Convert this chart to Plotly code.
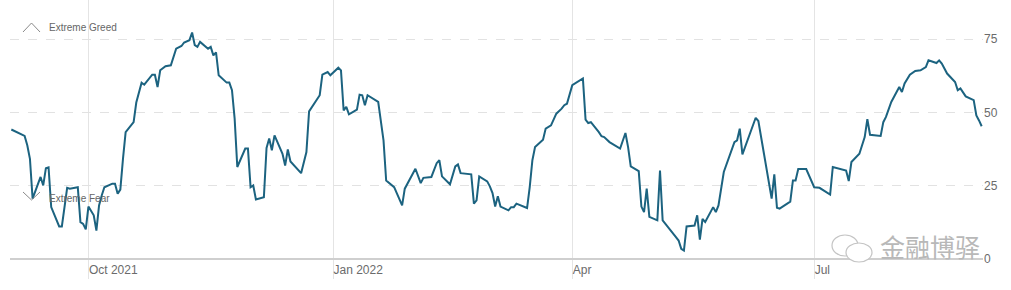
import plotly.graph_objects as go

dates = [
    "2021-09-02", "2021-09-07", "2021-09-08", "2021-09-09", "2021-09-10", "2021-09-13", "2021-09-14",
    "2021-09-15", "2021-09-16", "2021-09-17", "2021-09-20", "2021-09-21", "2021-09-23", "2021-09-24",
    "2021-09-27", "2021-09-28", "2021-09-29", "2021-09-30", "2021-10-01", "2021-10-03", "2021-10-04",
    "2021-10-05", "2021-10-06", "2021-10-07", "2021-10-10", "2021-10-11", "2021-10-12", "2021-10-13",
    "2021-10-14", "2021-10-15", "2021-10-18", "2021-10-19", "2021-10-21", "2021-10-22", "2021-10-25",
    "2021-10-26", "2021-10-27", "2021-10-28", "2021-10-30", "2021-11-01", "2021-11-03", "2021-11-05",
    "2021-11-06", "2021-11-08", "2021-11-09", "2021-11-10", "2021-11-11", "2021-11-12", "2021-11-15",
    "2021-11-16", "2021-11-17", "2021-11-18", "2021-11-19", "2021-11-22", "2021-11-23", "2021-11-24",
    "2021-11-25", "2021-11-26", "2021-11-29", "2021-11-30", "2021-12-01", "2021-12-02", "2021-12-03",
    "2021-12-06", "2021-12-07", "2021-12-08", "2021-12-09", "2021-12-10", "2021-12-13", "2021-12-14",
    "2021-12-15", "2021-12-16", "2021-12-20", "2021-12-22", "2021-12-23", "2021-12-27", "2021-12-28",
    "2021-12-30", "2021-12-31", "2022-01-03", "2022-01-04", "2022-01-05", "2022-01-06", "2022-01-07",
    "2022-01-10", "2022-01-11", "2022-01-12", "2022-01-13", "2022-01-14", "2022-01-18", "2022-01-20",
    "2022-01-21", "2022-01-24", "2022-01-25", "2022-01-26", "2022-01-27", "2022-01-28", "2022-02-01",
    "2022-02-03", "2022-02-04", "2022-02-07", "2022-02-09", "2022-02-10", "2022-02-11", "2022-02-14",
    "2022-02-16", "2022-02-17", "2022-02-18", "2022-02-22", "2022-02-23", "2022-02-24", "2022-02-25",
    "2022-02-28", "2022-03-01", "2022-03-02", "2022-03-03", "2022-03-04", "2022-03-05", "2022-03-08",
    "2022-03-09", "2022-03-10", "2022-03-11", "2022-03-15", "2022-03-16", "2022-03-17", "2022-03-18",
    "2022-03-21", "2022-03-22", "2022-03-24", "2022-03-26", "2022-03-28", "2022-03-29", "2022-03-30",
    "2022-04-01", "2022-04-05", "2022-04-06", "2022-04-07", "2022-04-08", "2022-04-11", "2022-04-12",
    "2022-04-13", "2022-04-15", "2022-04-19", "2022-04-21", "2022-04-22", "2022-04-23", "2022-04-26",
    "2022-04-27", "2022-04-28", "2022-04-29", "2022-04-30", "2022-05-03", "2022-05-04", "2022-05-05",
    "2022-05-10", "2022-05-11", "2022-05-12", "2022-05-13", "2022-05-14", "2022-05-17", "2022-05-18",
    "2022-05-19", "2022-05-20", "2022-05-21", "2022-05-24", "2022-05-25", "2022-05-26", "2022-05-28",
    "2022-06-01", "2022-06-02", "2022-06-03", "2022-06-04", "2022-06-09", "2022-06-10", "2022-06-15",
    "2022-06-16", "2022-06-17", "2022-06-18", "2022-06-22", "2022-06-23", "2022-06-24", "2022-06-25",
    "2022-06-28", "2022-06-30", "2022-07-01", "2022-07-03", "2022-07-07", "2022-07-08", "2022-07-13",
    "2022-07-14", "2022-07-15", "2022-07-18", "2022-07-20", "2022-07-21", "2022-07-22", "2022-07-26",
    "2022-07-27", "2022-07-28", "2022-07-30", "2022-08-02", "2022-08-03", "2022-08-04", "2022-08-06",
    "2022-08-08", "2022-08-10", "2022-08-12", "2022-08-13", "2022-08-16", "2022-08-17", "2022-08-18",
    "2022-08-20", "2022-08-23", "2022-08-24", "2022-08-25", "2022-08-27", "2022-08-30", "2022-08-31",
    "2022-09-01", "2022-09-02",
]

index_values = [
    44.2, 42.0, 38.8, 34.2, 20.6, 28.0, 25.1,
    31.0, 31.3, 17.7, 11.1, 11.1, 24.3, 24.0,
    24.5, 12.6, 12.0, 10.1, 17.9, 14.9, 9.7,
    18.3, 21.7, 24.5, 25.7, 25.7, 22.3, 23.7,
    34.2, 43.3, 46.7, 53.4, 60.2, 59.5, 62.9,
    62.9, 58.7, 64.4, 65.8, 66.1, 71.8, 72.7,
    73.9, 74.7, 77.3, 73.0, 72.4, 74.1, 71.8,
    72.4, 69.5, 70.5, 62.7, 60.2, 60.2, 57.6,
    47.9, 31.4, 37.7, 37.7, 24.5, 25.1, 20.3,
    21.1, 37.9, 41.1, 37.1, 42.2, 35.9, 31.9,
    37.4, 33.3, 29.3, 36.5, 50.4, 55.9, 62.9,
    63.8, 62.7, 65.3, 64.4, 50.7, 51.9, 49.4,
    51.0, 56.1, 55.9, 52.5, 55.9, 53.6, 40.5,
    26.8, 24.5, 22.3, 20.0, 18.3, 24.0, 30.8,
    25.9, 27.7, 28.0, 32.7, 33.7, 28.2, 25.5,
    31.6, 32.3, 29.3, 28.9, 18.9, 20.0, 28.2,
    26.5, 24.8, 22.5, 17.9, 21.4, 17.9, 16.6,
    17.7, 17.7, 18.9, 17.4, 24.5, 33.7, 38.2,
    40.7, 44.5, 45.6, 49.6, 51.3, 52.5, 53.0,
    59.3, 61.6, 47.6, 46.4, 46.7, 43.3, 41.9,
    41.6, 39.9, 37.7, 43.0, 38.2, 31.6, 30.0,
    17.9, 16.0, 24.0, 14.4, 13.2, 30.2, 13.2,
    7.5, 6.3, 3.5, 2.9, 11.1, 11.4, 14.9,
    6.6, 13.7, 12.6, 17.7, 16.0, 18.3, 29.7,
    39.9, 40.5, 44.5, 35.7, 48.2, 47.1, 20.6,
    28.9, 17.5, 17.2, 19.6, 26.8, 26.8, 30.7,
    30.7, 26.8, 24.5, 24.3, 22.0, 31.4, 30.2,
    26.6, 33.1, 35.9, 41.6, 47.7, 42.4, 42.0,
    46.7, 48.5, 53.6, 58.7, 57.0, 59.9, 62.9,
    64.2, 64.4, 65.5, 67.8, 66.9, 67.8, 66.7,
    63.3, 60.4, 57.6, 58.2, 55.5, 54.2, 49.0,
    47.3, 45.3,
]

x_tick_dates = ["2021-10-01", "2022-01-01", "2022-04-01", "2022-07-01"]
x_tick_labels = ["Oct 2021", "Jan 2022", "Apr", "Jul"]
y_tick_values = [0, 25, 50, 75]
y_tick_labels = ["0", "25", "50", "75"]

FONT = "Liberation Sans, Arial, sans-serif"
GREY_TEXT = "#6b6b6b"

fig = go.Figure()
fig.add_trace(go.Scatter(
    x=dates, y=index_values, mode="lines",
    line=dict(color="#1c6380", width=2),
    hoverinfo="skip", showlegend=False,
))

fig.update_layout(
    width=1011, height=290,
    margin=dict(l=10, r=28, t=0, b=31),
    paper_bgcolor="white", plot_bgcolor="white",
    font=dict(family=FONT, color=GREY_TEXT, size=12),
    showlegend=False,
)

fig.update_xaxes(
    type="date",
    range=["2021-09-01 12:00", "2022-09-02 12:00"],
    tickvals=x_tick_dates, ticktext=x_tick_labels,
    ticklabelposition="outside right",
    ticks="outside", ticklen=19, tickcolor="#e4e4e4", tickwidth=1,
    showgrid=True, gridcolor="#e4e4e4", gridwidth=1,
    showline=False, zeroline=False,
    tickfont=dict(family=FONT, size=12, color=GREY_TEXT),
)

fig.update_yaxes(
    range=[0, 88.4], side="right",
    tickvals=y_tick_values, ticktext=y_tick_labels,
    showgrid=True, gridcolor="#e2e2e2", griddash="dash", gridwidth=1,
    zeroline=True, zerolinecolor="#cfcfcf", zerolinewidth=2,
    showline=False, ticks="",
    tickfont=dict(family=FONT, size=12, color=GREY_TEXT),
)

# helpers to place decorations by pixel position
PL, PW, PH = 10, 973, 259


def px(xp):
    return (xp - PL) / PW


def py(yp):
    return (PH - yp) / PH


chev = dict(color="#8a8a8a", width=1)
fig.add_shape(type="path", xref="paper", yref="paper",
              path=f"M {px(23)} {py(32)} L {px(31.5)} {py(23)} L {px(40)} {py(32)}", line=chev)
fig.add_shape(type="path", xref="paper", yref="paper",
              path=f"M {px(23)} {py(192)} L {px(31.5)} {py(200)} L {px(40)} {py(192)}", line=chev)

fig.add_annotation(text="Extreme Greed", xref="paper", yref="paper", x=px(47), y=py(27),
                   xanchor="left", yanchor="middle", showarrow=False,
                   font=dict(family=FONT, size=10, color="#666666"))
fig.add_annotation(text="Extreme Fear", xref="paper", yref="paper", x=px(47), y=py(198),
                   xanchor="left", yanchor="middle", showarrow=False,
                   font=dict(family=FONT, size=10, color="#666666"))

# watermark
wm = dict(color="#c4c4c4", width=1.2)
fig.add_shape(type="circle", xref="paper", yref="paper",
              x0=px(832), x1=px(858), y0=py(256), y1=py(235), line=wm)
fig.add_shape(type="circle", xref="paper", yref="paper",
              x0=px(846), x1=px(872), y0=py(262), y1=py(243), fillcolor="white", line=wm)
fig.add_annotation(text="金融博驿", xref="paper", yref="paper", x=px(878), y=py(246),
                   xanchor="left", yanchor="middle", showarrow=False,
                   font=dict(family="Noto Sans CJK SC", size=25, color="#b8b8b8"))

fig.write_html("out.html")
